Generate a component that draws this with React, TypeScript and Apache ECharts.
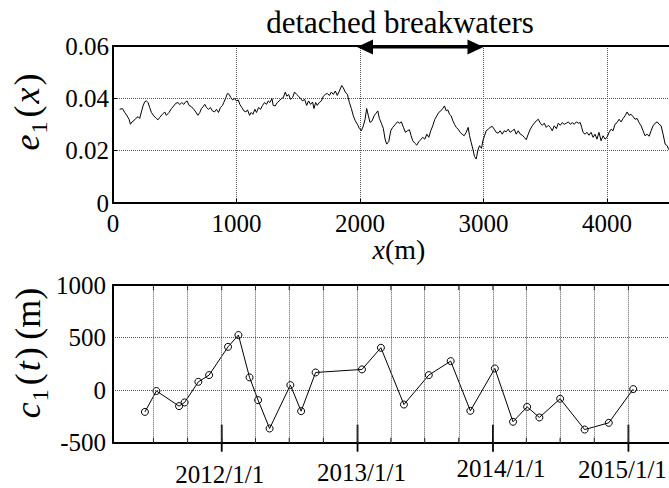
import React, { useEffect, useRef } from 'react';
import * as echarts from 'echarts';

// Alongshore distance (m) and the first EOF spatial mode e1(x)
const distance = [
  54, 76, 95, 114, 130, 141, 154, 168, 184, 203, 216, 230, 243, 257, 270, 284, 297, 311, 330, 351,
  365, 378, 400, 419, 432, 454, 473, 492, 508, 527, 541, 557, 573, 589, 600, 616, 635, 654, 670, 687,
  703, 716, 730, 743, 757, 773, 789, 805, 822, 838, 854, 870, 887, 897, 914, 927, 941, 954, 968, 984,
  1000, 1014, 1027, 1043, 1060, 1076, 1089, 1106, 1119, 1133, 1149, 1162, 1179, 1195, 1211, 1227, 1243, 1257, 1270, 1287,
  1297, 1314, 1330, 1346, 1362, 1379, 1395, 1408, 1422, 1438, 1454, 1470, 1487, 1503, 1519, 1535, 1552, 1568, 1584, 1600,
  1616, 1627, 1641, 1654, 1670, 1687, 1703, 1719, 1735, 1752, 1768, 1784, 1800, 1816, 1833, 1852, 1865, 1881, 1898, 1914,
  1930, 1946, 1962, 1979, 1995, 2011, 2027, 2041, 2054, 2068, 2081, 2098, 2114, 2130, 2144, 2157, 2173, 2189, 2203, 2216,
  2233, 2249, 2265, 2287, 2303, 2319, 2335, 2352, 2368, 2384, 2400, 2414, 2427, 2443, 2460, 2476, 2492, 2508, 2525, 2541,
  2557, 2573, 2589, 2606, 2622, 2638, 2654, 2670, 2684, 2698, 2711, 2725, 2738, 2752, 2765, 2779, 2795, 2811, 2827, 2843,
  2860, 2876, 2887, 2900, 2914, 2927, 2941, 2954, 2968, 2984, 2995, 3008, 3022, 3038, 3054, 3071, 3087, 3103, 3119, 3135,
  3152, 3168, 3184, 3200, 3216, 3233, 3249, 3265, 3281, 3298, 3314, 3330, 3346, 3362, 3379, 3395, 3411, 3427, 3444, 3460,
  3476, 3492, 3508, 3525, 3541, 3557, 3573, 3590, 3606, 3622, 3638, 3654, 3671, 3687, 3703, 3719, 3735, 3752, 3768, 3784,
  3795, 3806, 3822, 3838, 3854, 3871, 3887, 3903, 3919, 3935, 3952, 3968, 3984, 4000, 4017, 4033, 4049, 4065, 4081, 4098,
  4114, 4130, 4146, 4163, 4179, 4195, 4211, 4227, 4244, 4260, 4276, 4292, 4308, 4325, 4341, 4357, 4373, 4390, 4406, 4422,
  4438, 4454, 4471, 4487, 4500,
];
const e1 = [
  0.0358, 0.0361, 0.0346, 0.0333, 0.0320, 0.0301, 0.0310, 0.0314, 0.0323, 0.0330, 0.0323, 0.0348, 0.0371, 0.0387, 0.0390, 0.0384, 0.0365, 0.0346, 0.0333, 0.0323,
  0.0318, 0.0327, 0.0339, 0.0348, 0.0335, 0.0346, 0.0361, 0.0371, 0.0381, 0.0384, 0.0376, 0.0384, 0.0377, 0.0387, 0.0390, 0.0373, 0.0368, 0.0358, 0.0348, 0.0335,
  0.0346, 0.0361, 0.0368, 0.0377, 0.0365, 0.0358, 0.0365, 0.0352, 0.0348, 0.0358, 0.0346, 0.0365, 0.0373, 0.0384, 0.0403, 0.0419, 0.0415, 0.0403, 0.0394, 0.0399,
  0.0390, 0.0394, 0.0377, 0.0365, 0.0352, 0.0348, 0.0356, 0.0335, 0.0346, 0.0339, 0.0358, 0.0346, 0.0365, 0.0358, 0.0373, 0.0384, 0.0377, 0.0390, 0.0384, 0.0399,
  0.0373, 0.0371, 0.0384, 0.0390, 0.0399, 0.0403, 0.0424, 0.0408, 0.0415, 0.0396, 0.0403, 0.0424, 0.0415, 0.0408, 0.0399, 0.0390, 0.0396, 0.0373, 0.0390, 0.0377,
  0.0386, 0.0361, 0.0384, 0.0373, 0.0384, 0.0390, 0.0408, 0.0415, 0.0419, 0.0411, 0.0424, 0.0415, 0.0428, 0.0411, 0.0428, 0.0449, 0.0440, 0.0424, 0.0415, 0.0384,
  0.0361, 0.0333, 0.0314, 0.0301, 0.0285, 0.0276, 0.0295, 0.0320, 0.0361, 0.0333, 0.0308, 0.0314, 0.0333, 0.0343, 0.0352, 0.0323, 0.0305, 0.0285, 0.0244, 0.0225,
  0.0235, 0.0276, 0.0289, 0.0301, 0.0310, 0.0305, 0.0310, 0.0289, 0.0270, 0.0276, 0.0280, 0.0257, 0.0238, 0.0229, 0.0221, 0.0234, 0.0242, 0.0251, 0.0244, 0.0263,
  0.0251, 0.0276, 0.0295, 0.0320, 0.0333, 0.0346, 0.0352, 0.0361, 0.0371, 0.0352, 0.0356, 0.0339, 0.0333, 0.0314, 0.0301, 0.0289, 0.0282, 0.0270, 0.0263, 0.0257,
  0.0270, 0.0289, 0.0257, 0.0232, 0.0206, 0.0178, 0.0168, 0.0201, 0.0219, 0.0209, 0.0238, 0.0257, 0.0276, 0.0282, 0.0289, 0.0293, 0.0282, 0.0270, 0.0267, 0.0276,
  0.0263, 0.0276, 0.0272, 0.0282, 0.0270, 0.0276, 0.0282, 0.0263, 0.0276, 0.0263, 0.0259, 0.0251, 0.0242, 0.0263, 0.0282, 0.0295, 0.0305, 0.0314, 0.0320, 0.0305,
  0.0297, 0.0305, 0.0289, 0.0297, 0.0289, 0.0276, 0.0295, 0.0284, 0.0305, 0.0297, 0.0307, 0.0301, 0.0305, 0.0310, 0.0301, 0.0307, 0.0301, 0.0310, 0.0305, 0.0307,
  0.0289, 0.0270, 0.0263, 0.0270, 0.0259, 0.0270, 0.0251, 0.0263, 0.0244, 0.0270, 0.0238, 0.0257, 0.0244, 0.0251, 0.0270, 0.0282, 0.0276, 0.0301, 0.0307, 0.0320,
  0.0310, 0.0323, 0.0333, 0.0348, 0.0335, 0.0339, 0.0330, 0.0320, 0.0323, 0.0307, 0.0295, 0.0276, 0.0257, 0.0263, 0.0255, 0.0276, 0.0295, 0.0305, 0.0310, 0.0301,
  0.0295, 0.0263, 0.0225, 0.0219, 0.0204,
];

// Survey dates and the first EOF temporal mode c1(t) (m)
const surveyDates = [
  '2011-06-08', '2011-07-09', '2011-09-08', '2011-09-23', '2011-10-30', '2011-11-28', '2012-01-18',
  '2012-02-15', '2012-03-16', '2012-04-08', '2012-05-09', '2012-07-04', '2012-08-02', '2012-09-10',
  '2013-01-13', '2013-03-05', '2013-05-06', '2013-07-12', '2013-09-09', '2013-11-01', '2014-01-06',
  '2014-02-24', '2014-04-03', '2014-05-06', '2014-07-01', '2014-09-05', '2014-11-09', '2015-01-14',
];
const c1 = [
  -207, -8, -152, -117, 79, 143, 412,
  524, 121, -95, -365, 48, -200, 168,
  197, 403, -137, 143, 276, -197, 206,
  -301, -159, -260, -82, -375, -311, 10,
];

// Quarterly grid lines and the yearly date marks
const quarterLines = [
  '2011-07-01', '2011-10-01', '2012-01-01', '2012-04-01', '2012-07-01', '2012-10-01', '2013-01-01', '2013-04-01',
  '2013-07-01', '2013-10-01', '2014-01-01', '2014-04-01', '2014-07-01', '2014-10-01', '2015-01-01',
];
const yearMarks = ['2012-01-01', '2013-01-01', '2014-01-01', '2015-01-01'];
const yearLabels = ['2012/1/1', '2013/1/1', '2014/1/1', '2015/1/1'];

// Stretch of coast protected by the detached breakwaters (m)
const breakwaterSpan = [2000, 3000];

const SERIF = 'Liberation Serif';
const toTime = (s: string) => echarts.time.parse(s).getTime();

// Every text goes through a rich token so the serif face is applied per span
const serifToken = (size: number) => ({ fontSize: size, fontFamily: SERIF, color: '#000' });
const wrap = (s: string) => `{t|${s}}`;

export default function App() {
  const ref = useRef<HTMLDivElement>(null);

  useEffect(() => {
    if (!ref.current) return;
    const chart = echarts.init(ref.current, null, { renderer: 'svg' });

    const dotted = { color: '#555', width: 1, type: [1, 1] };
    const frame = { onZero: false, lineStyle: { color: '#000', width: 2 } };
    const tickRich = { t: serifToken(25) };
    const dateMin = toTime('2011-03-14');
    const dateMax = toTime('2015-04-19');
    // small hand nudges of the date captions (dx, dy from the axis foot)
    const captionShift = [[-2, 32], [4, 30], [8, 26], [-6, 27]];
    const nameRich = {
      i: { fontSize: 36, lineHeight: 36, verticalAlign: 'top', fontFamily: SERIF, fontStyle: 'italic', color: '#000' },
      s: { fontSize: 24, lineHeight: 24, verticalAlign: 'top', padding: [18, 2, 0, 1], fontFamily: SERIF, color: '#000' },
      r: { fontSize: 36, lineHeight: 36, verticalAlign: 'top', fontFamily: SERIF, color: '#000', padding: [0, 2, 0, 2] },
    };

    chart.setOption({
      animation: false,
      backgroundColor: '#fff',
      grid: [
        { left: 113, top: 46, width: 555.75, height: 157 },
        { left: 113, top: 285, width: 555.5, height: 157.7 },
      ],
      xAxis: [
        {
          gridIndex: 0, type: 'value', min: 0, max: 4500, interval: 1000,
          axisLine: frame,
          axisTick: { inside: true, length: 4, lineStyle: { color: '#000' } },
          axisLabel: { margin: 8, showMaxLabel: false, rich: tickRich, formatter: (v: number) => wrap(String(v)) },
          splitLine: { show: true, lineStyle: dotted },
        },
        {
          gridIndex: 0, type: 'value', position: 'top', min: 0, max: 4500,
          axisLine: frame, axisTick: { show: false }, axisLabel: { show: false }, splitLine: { show: false },
        },
        {
          gridIndex: 1, type: 'time', min: dateMin, max: dateMax,
          axisLine: frame, axisTick: { show: false }, axisLabel: { show: false }, splitLine: { show: false },
        },
        {
          gridIndex: 1, type: 'time', position: 'top', min: dateMin, max: dateMax,
          axisLine: frame, axisTick: { show: false }, axisLabel: { show: false }, splitLine: { show: false },
        },
      ],
      yAxis: [
        {
          gridIndex: 0, type: 'value', min: 0, max: 0.06, interval: 0.02,
          axisLine: { show: true, ...frame },
          axisTick: { inside: true, length: 4, lineStyle: { color: '#000' } },
          axisLabel: {
            margin: 4, rich: tickRich,
            formatter: (v: number) => wrap(v === 0 ? '0' : v.toFixed(2)),
          },
          splitLine: { show: true, lineStyle: dotted },
        },
        {
          gridIndex: 1, type: 'value', min: -500, max: 1000, interval: 500,
          axisLine: { show: true, ...frame },
          axisTick: { show: false },
          axisLabel: { margin: 7, rich: tickRich, formatter: (v: number) => wrap(String(v)) },
          splitLine: { show: true, lineStyle: dotted },
        },
      ],
      series: [
        {
          name: 'e1',
          type: 'line',
          xAxisIndex: 0,
          yAxisIndex: 0,
          data: distance.map((x, i) => [x, e1[i]]),
          symbol: 'none',
          lineStyle: { color: '#000', width: 1 },
          silent: true,
        },
        {
          name: 'breakwaters',
          type: 'custom',
          xAxisIndex: 0,
          yAxisIndex: 0,
          silent: true,
          data: [[breakwaterSpan[0], breakwaterSpan[1], 0.06]],
          encode: { x: [0, 1], y: 2 },
          renderItem: (_params: any, api: any) => {
            const a = api.coord([api.value(0), api.value(2)]);
            const b = api.coord([api.value(1), api.value(2)]);
            const len = 16;
            const half = 7.5;
            const y = a[1] + 1;
            return {
              type: 'group',
              children: [
                {
                  type: 'line',
                  shape: { x1: a[0] + len - 4, y1: y, x2: b[0] - len + 4, y2: y },
                  style: { stroke: '#000', lineWidth: 3 },
                },
                {
                  type: 'polygon',
                  shape: { points: [[a[0] - 3, y], [a[0] - 3 + len, y - half], [a[0] - 3 + len, y + half]] },
                  style: { fill: '#000' },
                },
                {
                  type: 'polygon',
                  shape: { points: [[b[0], y], [b[0] - len, y - half], [b[0] - len, y + half]] },
                  style: { fill: '#000' },
                },
              ],
            };
          },
        },
        {
          name: 'c1',
          type: 'line',
          xAxisIndex: 2,
          yAxisIndex: 1,
          data: surveyDates.map((d, i) => [toTime(d), c1[i]]),
          symbol: 'circle',
          symbolSize: 7,
          itemStyle: { color: 'rgba(0,0,0,0)', borderColor: '#000', borderWidth: 1 },
          lineStyle: { color: '#000', width: 1 },
          silent: true,
          markLine: {
            silent: true,
            symbol: ['none', 'none'],
            label: { show: false },
            lineStyle: dotted,
            data: quarterLines.map((q) => ({ xAxis: toTime(q) })),
          },
        },
        {
          // short solid ticks where the quarter lines meet the frame
          name: 'quarter ticks',
          type: 'custom',
          xAxisIndex: 2,
          yAxisIndex: 1,
          silent: true,
          data: quarterLines.map((q) => [toTime(q), -500, 1000]),
          encode: { x: 0, y: [1, 2] },
          renderItem: (_params: any, api: any) => {
            const lo = api.coord([api.value(0), api.value(1)]);
            const hi = api.coord([api.value(0), api.value(2)]);
            return {
              type: 'group',
              children: [
                { type: 'line', shape: { x1: lo[0], y1: lo[1], x2: lo[0], y2: lo[1] - 5 }, style: { stroke: '#000', lineWidth: 1 } },
                { type: 'line', shape: { x1: hi[0], y1: hi[1], x2: hi[0], y2: hi[1] + 5 }, style: { stroke: '#000', lineWidth: 1 } },
              ],
            };
          },
        },
        {
          name: 'years',
          type: 'custom',
          xAxisIndex: 2,
          yAxisIndex: 1,
          silent: true,
          data: yearMarks.map((d) => [toTime(d), -500]),
          encode: { x: 0, y: 1 },
          renderItem: (params: any, api: any) => {
            const p = api.coord([api.value(0), api.value(1)]);
            const [dx, dy] = captionShift[params.dataIndex] || [0, 29];
            return {
              type: 'group',
              children: [
                {
                  type: 'line',
                  shape: { x1: p[0], y1: p[1] - 18, x2: p[0], y2: p[1] + 9 },
                  style: { stroke: '#000', lineWidth: 1.8 },
                },
                {
                  type: 'text',
                  x: p[0] + dx,
                  y: p[1] + dy,
                  style: {
                    text: wrap(yearLabels[params.dataIndex]),
                    rich: tickRich,
                    align: 'center',
                    verticalAlign: 'middle',
                  },
                },
              ],
            };
          },
        },
      ],
      graphic: [
        {
          type: 'text',
          x: 400,
          y: 22,
          style: {
            text: wrap('detached breakwaters'),
            rich: { t: serifToken(31) },
            align: 'center',
            verticalAlign: 'middle',
          },
        },
        {
          type: 'text',
          x: 399,
          y: 249,
          style: {
            text: '{i|x}{r|(m)}',
            align: 'center',
            verticalAlign: 'middle',
            rich: {
              i: { fontSize: 28, fontFamily: SERIF, fontStyle: 'italic', color: '#000' },
              r: { fontSize: 28, fontFamily: SERIF, color: '#000' },
            },
          },
        },
        {
          type: 'text',
          x: 27,
          y: 111,
          rotation: Math.PI / 2,
          style: {
            text: '{i|e}{s|1}{r|(}{i|x}{r|)}',
            align: 'center',
            verticalAlign: 'middle',
            rich: nameRich,
          },
        },
        {
          type: 'text',
          x: 28,
          y: 352,
          rotation: Math.PI / 2,
          style: {
            text: '{i|c}{s|1}{r|(}{i|t}{r|)} {r|(m)}',
            align: 'center',
            verticalAlign: 'middle',
            rich: nameRich,
          },
        },
      ],
    });

    return () => chart.dispose();
  }, []);

  return (
    <div
      ref={ref}
      style={{ position: 'fixed', left: 0, top: 0, width: 669, height: 488, background: '#fff' }}
    />
  );
}
